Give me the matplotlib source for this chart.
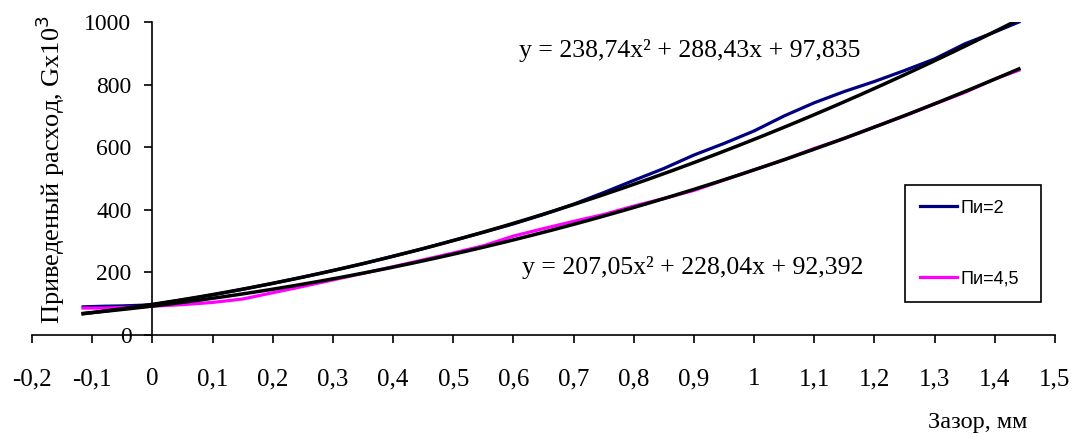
import numpy as np
import matplotlib
matplotlib.use("Agg")
import matplotlib.pyplot as plt

gap_mm = [-0.115, -0.08, -0.05, -0.02, 0.0, 0.05, 0.1, 0.15, 0.2, 0.25, 0.3,
          0.35, 0.4, 0.45, 0.5, 0.55, 0.6, 0.65, 0.7, 0.75, 0.8, 0.85, 0.9,
          0.95, 1.0, 1.05, 1.1, 1.15, 1.2, 1.25, 1.3, 1.35, 1.4, 1.44]
flow_pi2 = [90, 92, 93, 95, 97, 112, 128, 146, 165, 185, 206, 228, 252, 276,
            302, 328, 355, 385, 418, 455, 494, 532, 575, 612, 652, 700, 742,
            778, 810, 845, 882, 930, 968, 1000]
flow_pi45 = [86, 86, 88, 90, 92, 97, 104, 115, 135, 155, 176, 197, 218, 240,
             262, 285, 316, 340, 363, 385, 412, 436, 462, 495, 528, 560, 596,
             628, 665, 700, 738, 775, 818, 846]

# polynomial trendlines as printed on the chart
trend_pi2 = [238.74, 288.43, 97.835]
trend_pi45 = [207.05, 228.04, 92.392]
eq_pi2 = "y = 238,74x² + 288,43x + 97,835"
eq_pi45 = "y = 207,05x² + 228,04x + 92,392"

x_ticks = [-0.2, -0.1, 0, 0.1, 0.2, 0.3, 0.4, 0.5, 0.6, 0.7, 0.8, 0.9, 1.0,
           1.1, 1.2, 1.3, 1.4, 1.5]
x_ticklabels = ["-0,2", "-0,1", "0", "0,1", "0,2", "0,3", "0,4", "0,5", "0,6",
                "0,7", "0,8", "0,9", "1", "1,1", "1,2", "1,3", "1,4", "1,5"]
y_ticks = [0, 200, 400, 600, 800, 1000]

SERIF = "Liberation Serif"
fig = plt.figure(figsize=(10.74, 4.34), dpi=100)
ax = fig.add_axes([0.0298, 0.2281, 0.9525, 0.7212])

ax.plot(gap_mm, flow_pi2, color="#000080", lw=2.3, label="Пи=2")
ax.plot(gap_mm, flow_pi45, color="#ff00ff", lw=2.3, label="Пи=4,5")

# trendlines (black) on top of the measured curves
xt = np.linspace(gap_mm[0], gap_mm[-1], 200)
ax.plot(xt, np.polyval(trend_pi2, xt), color="black", lw=2.5)
ax.plot(xt, np.polyval(trend_pi45, xt), color="black", lw=2.5)

ax.text(0.61, 910, eq_pi2, ha="left", va="center", fontsize=18.5, family=SERIF)
ax.text(0.614, 217, eq_pi45, ha="left", va="center", fontsize=18.5, family=SERIF)

ax.set_xlim(-0.2, 1.5)
ax.set_ylim(0, 1000)
ax.spines["left"].set_position(("data", 0))
ax.spines["top"].set_visible(False)
ax.spines["right"].set_visible(False)
for s in ("left", "bottom"):
    ax.spines[s].set_linewidth(1.2)

ax.set_xticks(x_ticks)
ax.set_xticklabels(x_ticklabels, family=SERIF, fontsize=18)
ax.set_yticks(y_ticks)
ax.set_yticklabels([str(v) for v in y_ticks], family=SERIF, fontsize=17)
ax.tick_params(axis="x", direction="out", length=6, width=1.2, pad=18)
ax.tick_params(axis="y", direction="out", length=6, width=1.2, pad=9)

ax.set_ylabel("Приведеный расход, Gx10$^3$", family=SERIF, fontsize=19)
ax.yaxis.set_label_coords(0.034, 0.53)
ax.set_xlabel("Зазор, мм", family=SERIF, fontsize=17.5, ha="right", va="baseline")
ax.xaxis.set_label_coords(0.973, -0.297)

leg = ax.legend(loc="upper left", bbox_to_anchor=(0.8427, 0.2926, 0.1266, 0.281),
                bbox_transform=fig.transFigure, mode="expand", borderaxespad=0,
                prop={"family": "Liberation Sans", "size": 13},
                handlelength=2.1, handletextpad=0.15, labelspacing=3.0,
                borderpad=0.8, fancybox=False, framealpha=1)
leg.get_frame().set_edgecolor("black")
leg.get_frame().set_linewidth(1.2)

fig.savefig("out.png", dpi=100)
